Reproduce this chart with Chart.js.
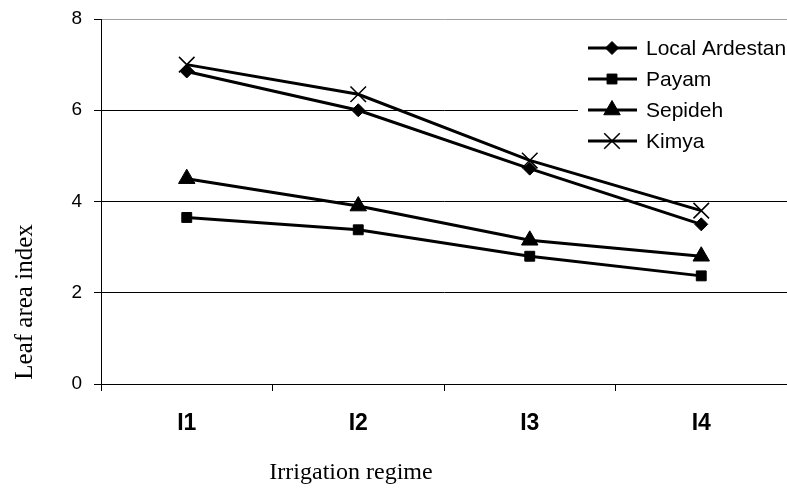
<!DOCTYPE html>
<html>
<head>
<meta charset="utf-8">
<script src="https://cdn.jsdelivr.net/npm/chart.js@4.4.0/dist/chart.umd.min.js"></script>
<style>
  html, body { margin: 0; padding: 0; background: #fff; }
  #wrap { width: 787px; height: 488px; }
</style>
</head>
<body>
<div id="wrap"><canvas id="laiChart"></canvas></div>
<script>
// irrigation regimes and leaf area index of each cultivar
const regimes = ['I1', 'I2', 'I3', 'I4'];
const localArdestan = [6.85, 6.0, 4.72, 3.5];
const payam = [3.65, 3.38, 2.8, 2.37];
const sepideh = [4.5, 3.9, 3.15, 2.8];
const kimya = [7.0, 6.35, 4.9, 3.8];
const yTicks = [0, 2, 4, 6, 8];

const sans = '"Liberation Sans", Arial, sans-serif';
const serif = '"Liberation Serif", "Times New Roman", serif';

function series(label, data, style, radius, bw) {
    return {
        label: label,
        data: data,
        borderColor: '#000',
        borderWidth: 3,
        pointStyle: style,
        pointRadius: radius,
        pointBorderWidth: bw,
        pointBackgroundColor: '#000',
        pointBorderColor: '#000',
        fill: false,
        tension: 0
    };
}

// legend in the upper right corner, on a white box
const legendBox = {
    id: 'legendBox',
    afterDatasetsDraw(chart) {
        const ctx = chart.ctx;
        ctx.save();
        ctx.fillStyle = '#fff';
        ctx.fillRect(578, 28, 209, 128);
        chart.data.datasets.forEach(function(ds, i) {
            const y = 48 + i * 31;
            ctx.strokeStyle = '#000';
            ctx.lineWidth = 3;
            ctx.beginPath();
            ctx.moveTo(588, y);
            ctx.lineTo(637, y);
            ctx.stroke();
            ctx.fillStyle = '#000';
            ctx.lineWidth = ds.pointBorderWidth;
            Chart.helpers.drawPoint(ctx, {
                pointStyle: ds.pointStyle,
                rotation: 0,
                radius: ds.pointRadius,
                borderWidth: ds.pointBorderWidth
            }, 612, y);
            ctx.font = '21px ' + sans;
            ctx.textAlign = 'left';
            ctx.textBaseline = 'middle';
            ctx.fillText(ds.label, 646, y + 1);
        });
        ctx.restore();
    }
};

// axis titles
const axisTitles = {
    id: 'axisTitles',
    afterDraw(chart) {
        const ctx = chart.ctx;
        ctx.save();
        ctx.fillStyle = '#000';
        ctx.textAlign = 'center';
        ctx.textBaseline = 'alphabetic';
        ctx.font = '24px ' + serif;
        ctx.fillText('Irrigation regime', 351, 479);
        ctx.translate(32, 302);
        ctx.rotate(-Math.PI / 2);
        ctx.font = '25px ' + serif;
        ctx.fillText('Leaf area index', 0, 0);
        ctx.restore();
    }
};

document.addEventListener('DOMContentLoaded', function() {
    const ctx = document.getElementById('laiChart').getContext('2d');
    new Chart(ctx, {
        type: 'line',
        data: {
            labels: regimes,
            datasets: [
                series('Local Ardestan', localArdestan, 'rectRot', 6.5, 1),
                series('Payam', payam, 'rect', 7, 1),
                series('Sepideh', sepideh, 'triangle', 9.5, 1),
                series('Kimya', kimya, 'crossRot', 11, 1.5)
            ]
        },
        options: {
            responsive: true,
            maintainAspectRatio: false,
            animation: false,
            layout: { autoPadding: false, padding: { top: 19, right: 0, bottom: 0, left: 0 } },
            plugins: {
                legend: { display: false },
                tooltip: { enabled: false }
            },
            scales: {
                x: {
                    offset: true,
                    ticks: {
                        color: '#000',
                        font: { family: '"Liberation Sans Narrow", ' + sans, size: 23, weight: 'bold' },
                        padding: 19
                    },
                    grid: { offset: true, drawOnChartArea: false, tickLength: 7, color: '#000' },
                    border: { color: '#000', width: 1 },
                    afterFit: function(s) {
                        s.height = 104;
                        s.paddingLeft = 0;
                        s.paddingRight = 0;
                    }
                },
                y: {
                    min: 0,
                    max: 8,
                    afterBuildTicks: function(s) { s.ticks = yTicks.map(v => ({ value: v })); },
                    ticks: {
                        color: '#000',
                        font: { family: sans, size: 19 },
                        padding: 12
                    },
                    grid: {
                        color: c => (c.tick && c.tick.value === 8) ? '#a0a0a0' : '#000',
                        tickColor: '#000',
                        tickLength: 7,
                        lineWidth: 1
                    },
                    border: { color: '#000', width: 1 },
                    afterFit: function(s) {
                        s.width = 101;
                        s.paddingTop = 0;
                        s.paddingBottom = 0;
                    }
                }
            }
        },
        plugins: [legendBox, axisTitles]
    });
});
</script>
</body>
</html>
